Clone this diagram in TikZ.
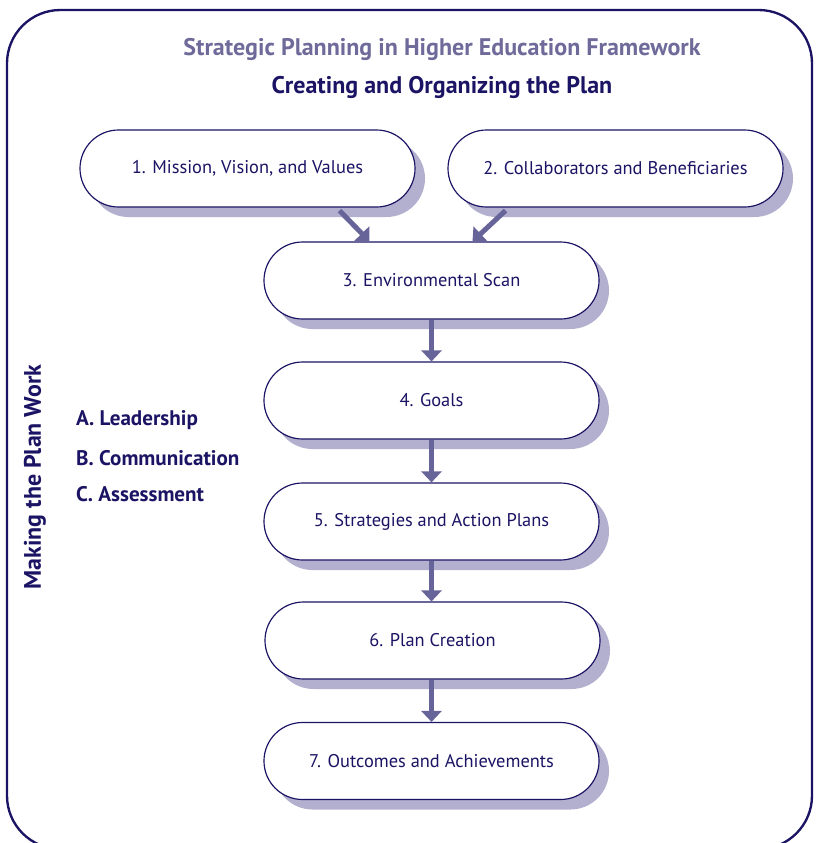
\documentclass[tikz,border=0pt]{standalone}
\usepackage{fontspec}
\setmainfont{PT Sans}
\usetikzlibrary{arrows.meta,shadows}

\definecolor{navy}{HTML}{1B1464}
\definecolor{shade}{HTML}{B3B0CF}
\definecolor{arrowc}{HTML}{67649A}
\definecolor{titlec}{HTML}{6E6A9A}

\tikzset{
  stage/.style={draw=navy, line width=1pt, fill=white, rounded corners=1.155cm,
    minimum width=10.05cm, minimum height=2.31cm, text=navy, font=\fontsize{15.7}{18}\selectfont,
    drop shadow={shadow xshift=0.3cm, shadow yshift=-0.3cm, fill=shade, opacity=1}},
  flow/.style={draw=arrowc, line width=4.3pt, -{Triangle[width=0.6cm,length=0.33cm]}},
  pillar/.style={text=navy, font=\bfseries\fontsize{18}{20}\selectfont, anchor=west}
}

\begin{document}
\begin{tikzpicture}[x=0.03cm, y=-0.03cm]
    \useasboundingbox (0,0) rectangle (819,843);

    % Rahmen
    \begin{scope}
        \clip (0,0) rectangle (819,843);
        \draw[navy, line width=2pt, rounded corners=1.6cm] (7,10) rectangle (812,849);
    \end{scope}

    % Titel
    \node[text=titlec, font=\bfseries\fontsize{20.5}{24}\selectfont] (title) at (442,49) {Strategic Planning in Higher Education Framework};
    \node[text=navy, font=\bfseries\fontsize{20.5}{24}\selectfont] (subtitle) at (442,87) {Creating and Organizing the Plan};

    % Schritte
    \node[stage] (s1) at (247.5,168.5) {1. Mission, Vision, and Values};
    \node[stage] (s2) at (615.5,168.5) {2. Collaborators and Beneficiaries};
    \node[stage] (s3) at (431.5,280.5) {3. Environmental Scan};
    \node[stage] (s4) at (431.5,400.5) {4. Goals};
    \node[stage] (s5) at (431.5,521.5) {5. Strategies and Action Plans};
    \node[stage] (s6) at (432.5,640.5) {6. Plan Creation};
    \node[stage] (s7) at (431.5,761) {7. Outcomes and Achievements};

    % Pfeile
    \draw[flow] ([shift={(92,3)}]s1.south) -- ([shift={(-62,0)}]s3.north);
    \draw[flow] ([shift={(-110,3)}]s2.south) -- ([shift={(41,0)}]s3.north);
    \draw[flow] (s3.south) -- (s4.north);
    \draw[flow] (s4.south) -- (s5.north);
    \draw[flow] (s5.south) -- (s6.north -| s5.south);
    \draw[flow] (s6.south -| s7.north) -- (s7.north);

    % Umsetzung
    \node[rotate=90, text=navy, font=\bfseries\fontsize{20.4}{24}\selectfont] (work) at (35,477) {Making the Plan Work};
    \node[pillar] (lead) at (72,420) {A. Leadership};
    \node[pillar] (comm) at (72,458) {B. Communication};
    \node[pillar] (assess) at (72,494) {C. Assessment};
\end{tikzpicture}
\end{document}
